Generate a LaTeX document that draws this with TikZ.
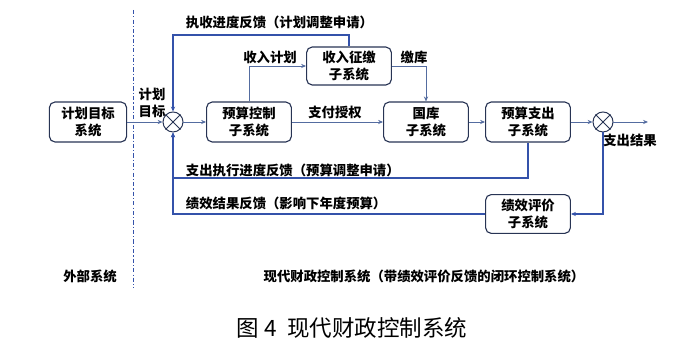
\documentclass[tikz,border=0pt]{standalone}
\usepackage{fontspec}
\setmainfont{Noto Sans CJK SC}
\usepackage{tikz}
\usetikzlibrary{positioning,arrows.meta}
\usepackage{xcolor}
\definecolor{boxline}{RGB}{40, 52, 84}
\definecolor{flowline}{RGB}{84, 108, 160}
\definecolor{loopblue}{RGB}{52, 82, 170}

\begin{document}
\begin{tikzpicture}[
    x=0.025cm, y=-0.025cm,
    font=\bfseries\fontsize{9.5}{11.5}\selectfont,
    >={Stealth[length=3.5pt, width=3pt]},
    box/.style={draw=boxline, line width=0.8pt, rectangle, rounded corners=4pt,
                align=center, minimum width=2.12cm, minimum height=1.0cm, inner sep=2pt},
    sum/.style={draw=boxline, line width=0.7pt, circle, minimum size=0.5cm, inner sep=0pt},
    flow/.style={draw=flowline, line width=0.7pt},
    loop/.style={draw=loopblue, line width=0.8pt},
  ]
    \useasboundingbox (0,0) rectangle (700,352);

    % boxes
    \node[box, minimum width=1.93cm] (target) at (88,122) {计划目标\\系统};
    \node[box] (ctrl) at (249,122) {预算控制\\子系统};
    \node[box, minimum height=0.95cm] (rev) at (349,66) {收入征缴\\子系统};
    \node[box] (treas) at (426,122) {国库\\子系统};
    \node[box] (spend) at (528,122) {预算支出\\子系统};
    \node[box, minimum height=0.97cm] (perf) at (528,214) {绩效评价\\子系统};

    % junctions
    \node[sum] (sumin) at (173,122) {};
    \draw[boxline, line width=0.7pt] (sumin.north west) -- (sumin.south east)
      (sumin.north east) -- (sumin.south west);
    \node[sum] (sumout) at (603,122) {};
    \draw[boxline, line width=0.7pt] (sumout.north west) -- (sumout.south east)
      (sumout.north east) -- (sumout.south west);
    \coordinate (out) at (648,122);

    % boundary
    \draw[loopblue, line width=0.7pt, dash pattern=on 3pt off 1.5pt on 0.8pt off 1.5pt]
      (133,10) -- (133,288);

    % forward path
    \draw[flow, ->] (target) -- (sumin);
    \draw[flow, ->] (sumin) -- (ctrl);
    \draw[flow, ->] (ctrl.north) |- (rev.west);
    \draw[flow, ->] (rev.east) -| (treas.north);
    \draw[flow, ->] (ctrl) -- (treas);
    \draw[flow, ->] (treas) -- (spend);
    \draw[flow, ->] (spend) -- (sumout);
    \draw[flow, ->] (sumout) -- (out);

    % feedback loops
    \draw[loop, ->] (rev.north) |- (173,35) -- (sumin.north);
    \draw[loop, ->] (spend.south) |- (173,178) -- (sumin.south);
    \draw[loop, ->] (sumout.south) |- (perf.east);
    \draw[loop, ->] (perf.west) -- (173,214) -- (sumin.south);

    % labels
    \node (lbltarget) at (152,103) [align=center, inner sep=0pt] {计划\\目标};
    \node[anchor=west] (lblexec) at (181,22) {执收进度反馈（计划调整申请）};
    \node (lblplan) at (270,57) {收入计划};
    \node (lbldep) at (414,57) {缴库};
    \node (lblpay) at (335,112) {支付授权};
    \node (lblres) at (630,140) {支出结果};
    \node[anchor=west] (lblspend) at (181,170) {支出执行进度反馈（预算调整申请）};
    \node[anchor=west] (lblperf) at (181,203) {绩效结果反馈（影响下年度预算）};
    \node (lblext) at (90,276) {外部系统};
    \node (lblsys) at (424,276) {现代财政控制系统（带绩效评价反馈的闭环控制系统）};
    \node[font=\fontsize{16}{19}\selectfont] (caption) at (352,328) {图 4\ \ 现代财政控制系统};
  \end{tikzpicture}
\end{document}
